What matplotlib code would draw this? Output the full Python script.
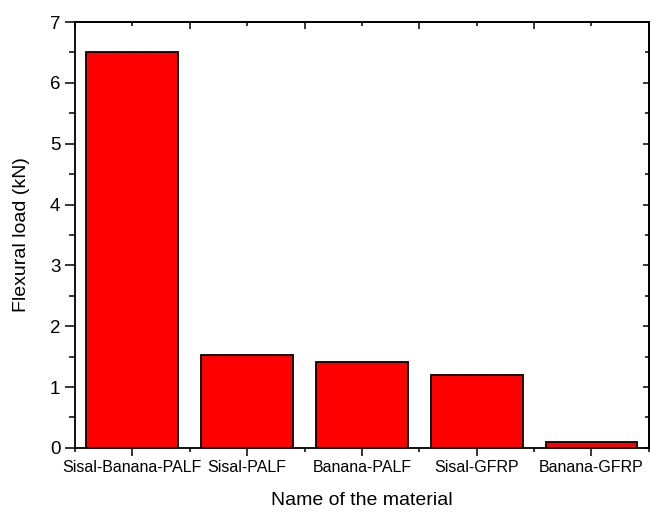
import matplotlib.pyplot as plt
from matplotlib.ticker import MultipleLocator

materials = ['Sisal-Banana-PALF', 'Sisal-PALF', 'Banana-PALF', 'Sisal-GFRP', 'Banana-GFRP']
flexural_load = [6.51, 1.52, 1.41, 1.19, 0.10]

plt.rcParams['font.family'] = ['Liberation Sans', 'DejaVu Sans']

fig = plt.figure(figsize=(6.58, 5.13), dpi=100)
ax = fig.add_axes([0.114, 0.127, 0.872, 0.830])

x = range(len(materials))
ax.bar(x, flexural_load, width=0.8, color='#ff0000', edgecolor='black', linewidth=1.3)

ax.set_xlim(-0.5, 4.5)
ax.set_ylim(0, 7)
ax.set_xticks(list(x))
ax.set_xticklabels(materials, fontsize=11.5)
ax.xaxis.set_minor_locator(MultipleLocator(0.5))
ax.yaxis.set_major_locator(MultipleLocator(1))
ax.yaxis.set_minor_locator(MultipleLocator(0.5))
ax.tick_params(axis='y', which='major', labelsize=13.5, direction='out', length=7, width=1.1)
ax.tick_params(axis='y', which='minor', direction='out', length=4, width=1.1)
ax.tick_params(axis='x', which='major', direction='out', length=6, width=1.1, pad=3)
ax.tick_params(axis='x', which='minor', direction='out', length=3, width=1.1)

# mirrored ticks on the top and right spines, pointing inward
top = ax.secondary_xaxis('top')
top.set_xticks(list(x))
top.xaxis.set_minor_locator(MultipleLocator(0.5))
top.tick_params(which='major', direction='in', length=3, width=1.1, labeltop=False)
top.tick_params(which='minor', direction='in', length=5, width=1.1)
right = ax.secondary_yaxis('right')
right.yaxis.set_major_locator(MultipleLocator(1))
right.yaxis.set_minor_locator(MultipleLocator(0.5))
right.tick_params(which='major', direction='in', length=4, width=1.1, labelright=False)
right.tick_params(which='minor', direction='in', length=3, width=1.1)

for sp in ax.spines.values():
    sp.set_linewidth(1.3)
top.spines['top'].set_linewidth(1.3)
right.spines['right'].set_linewidth(1.3)

ax.set_ylabel('Flexural load (kN)', fontsize=14, labelpad=14)
ax.set_xlabel('Name of the material', fontsize=14, labelpad=12)

fig.savefig('out.png', dpi=100)
